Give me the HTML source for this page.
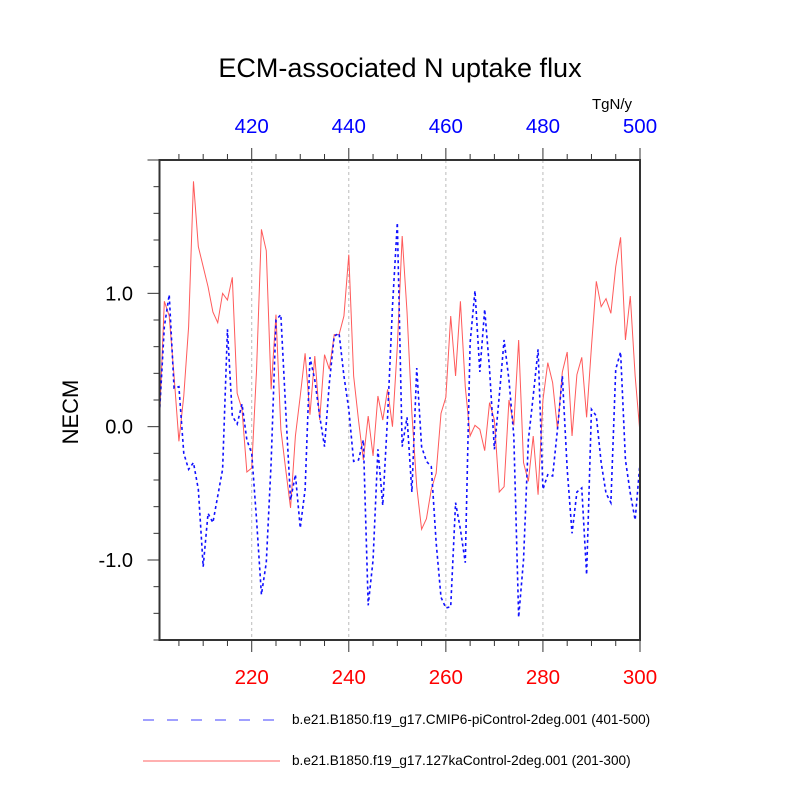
<!DOCTYPE html>
<html><head><meta charset="utf-8"><style>
body{margin:0;background:#fff}
svg{display:block;font-family:"Liberation Sans",sans-serif}
</style></head><body>
<svg id="chart" width="800" height="800" viewBox="0 0 800 800">
<text x="400" y="77" font-size="27" text-anchor="middle">ECM-associated N uptake flux</text>
<text x="612" y="109" font-size="15" text-anchor="middle">TgN/y</text>
<text transform="translate(78,412) rotate(-90)" font-size="22" text-anchor="middle">NECM</text>
<g id="grid"></g>
<g id="axes"></g>
<g id="series"></g>
<rect x="159.5" y="160" width="480.5" height="480" fill="none" stroke="#333" stroke-width="2"/>
<g>
<line x1="143" y1="720" x2="275" y2="720" stroke="#4040ff" stroke-width="1" stroke-dasharray="11,13"/>
<text x="292" y="724" font-size="13.6">b.e21.B1850.f19_g17.CMIP6-piControl-2deg.001 (401-500)</text>
<line x1="143" y1="761" x2="280" y2="761" stroke="#ff6060" stroke-width="1"/>
<text x="292" y="765" font-size="13.6">b.e21.B1850.f19_g17.127kaControl-2deg.001 (201-300)</text>
</g>
</svg>
<script>
const redValues=[0.05,0.94,0.83,0.38,-0.11,0.23,0.75,1.84,1.35,1.2,1.05,0.86,0.78,1.0,0.95,1.12,0.25,0.13,-0.34,-0.31,0.43,1.48,1.32,0.28,0.84,-0.02,-0.32,-0.61,-0.07,0.23,0.55,0.09,0.53,0.05,0.54,0.43,0.69,0.69,0.83,1.29,0.38,0.05,-0.25,0.08,-0.22,0.23,0.05,0.28,0.0,0.6,1.43,0.86,0.1,-0.45,-0.77,-0.69,-0.47,-0.35,0.1,0.22,0.83,0.38,0.94,0.3,-0.07,0.01,-0.02,-0.18,0.18,0.05,-0.49,-0.45,0.2,0.01,0.65,-0.27,-0.41,-0.07,-0.51,0.2,0.48,0.33,-0.02,0.41,0.56,-0.07,0.39,0.52,0.07,0.6,1.09,0.9,0.96,0.85,1.2,1.42,0.65,0.98,0.38,-0.05];
const blueValues=[0.1,0.75,0.99,0.29,0.3,-0.2,-0.32,-0.27,-0.47,-1.05,-0.65,-0.72,-0.52,-0.32,0.73,0.08,0.02,0.17,-0.1,-0.2,-0.7,-1.26,-1.02,-0.27,0.8,0.84,0.13,-0.55,-0.36,-0.76,-0.47,0.52,0.35,0.08,-0.15,0.33,0.68,0.7,0.38,0.13,-0.26,-0.25,-0.1,-1.34,-1.0,-0.17,-0.59,0.08,0.9,1.53,-0.15,0.07,-0.49,0.44,-0.15,-0.26,-0.3,-0.87,-1.28,-1.36,-1.35,-0.57,-0.77,-1.02,0.63,1.02,0.41,0.88,0.43,-0.17,0.23,0.65,0.35,-0.07,-1.43,-1.0,-0.1,0.23,0.58,-0.47,-0.36,-0.37,-0.02,0.38,-0.32,-0.8,-0.49,-0.46,-1.11,0.13,0.08,-0.27,-0.5,-0.57,0.43,0.56,-0.25,-0.5,-0.7,-0.27];
const bottomTicks=[220,240,260,280,300];
const topTicks=[420,440,460,480,500];
const yTicks=[1.0,0.0,-1.0];
const yTickLabels=["1.0","0.0","-1.0"];
const startYear=201;
const NS="http://www.w3.org/2000/svg";
const X0=159.5,X1=640,Y0=160,Y1=640,XMIN=201,XMAX=300,YMIN=-1.6,YMAX=2.0;
function xs(v){return X0+(v-XMIN)/(XMAX-XMIN)*(X1-X0);}
function ys(v){return Y1-(v-YMIN)/(YMAX-YMIN)*(Y1-Y0);}
function mk(tag,attrs,parent){const e=document.createElementNS(NS,tag);for(const k in attrs)e.setAttribute(k,attrs[k]);parent.appendChild(e);return e;}
const grid=document.getElementById('grid'),axes=document.getElementById('axes'),series=document.getElementById('series');
bottomTicks.forEach(t=>{if(t<XMAX){const l=mk('line',{x1:xs(t),x2:xs(t),y1:Y0,y2:Y1,stroke:'#bbb','stroke-width':1,'stroke-dasharray':'3,3'},grid);

}});
for(let v=205;v<=300;v+=5){const major=(v%20===0);const x=xs(v);
const a=mk('line',{x1:x,x2:x,y1:Y1,y2:Y1+(major?12:6),stroke:'#333','stroke-width':1},axes);


const b=mk('line',{x1:x,x2:x,y1:Y0,y2:Y0-(major?12:6),stroke:'#333','stroke-width':1},axes);

}
bottomTicks.forEach(t=>{const e=mk('text',{x:xs(t),y:684,'font-size':20.5,'text-anchor':'middle',fill:'#ff0000'},axes);e.textContent=t;

});
topTicks.forEach((t,i)=>{const e=mk('text',{x:xs(bottomTicks[i]),y:133,'font-size':20.5,'text-anchor':'middle',fill:'#0000ff'},axes);e.textContent=t;

});
for(let k=-8;k<=10;k++){const v=k/5;const major=(k%5===0);const y=ys(v);if(y<Y0||y>Y1)continue;
const a=mk('line',{x1:X0,x2:X0-(major?12:6),y1:y,y2:y,stroke:'#333','stroke-width':1},axes);

}
yTicks.forEach((t,i)=>{const e=mk('text',{x:133,y:ys(t)+7,'font-size':20,'text-anchor':'end'},axes);e.textContent=yTickLabels[i];

});
function pts(arr){return arr.map((v,i)=>xs(startYear+i).toFixed(2)+','+ys(v).toFixed(2)).join(' ');}
const red=mk('polyline',{points:pts(redValues),fill:'none',stroke:'#ff5a5a','stroke-width':1},series);


const blue=mk('polyline',{points:pts(blueValues),fill:'none',stroke:'#1010ff','stroke-width':1.6,'stroke-dasharray':'3,3'},series);


</script>
</body></html>
